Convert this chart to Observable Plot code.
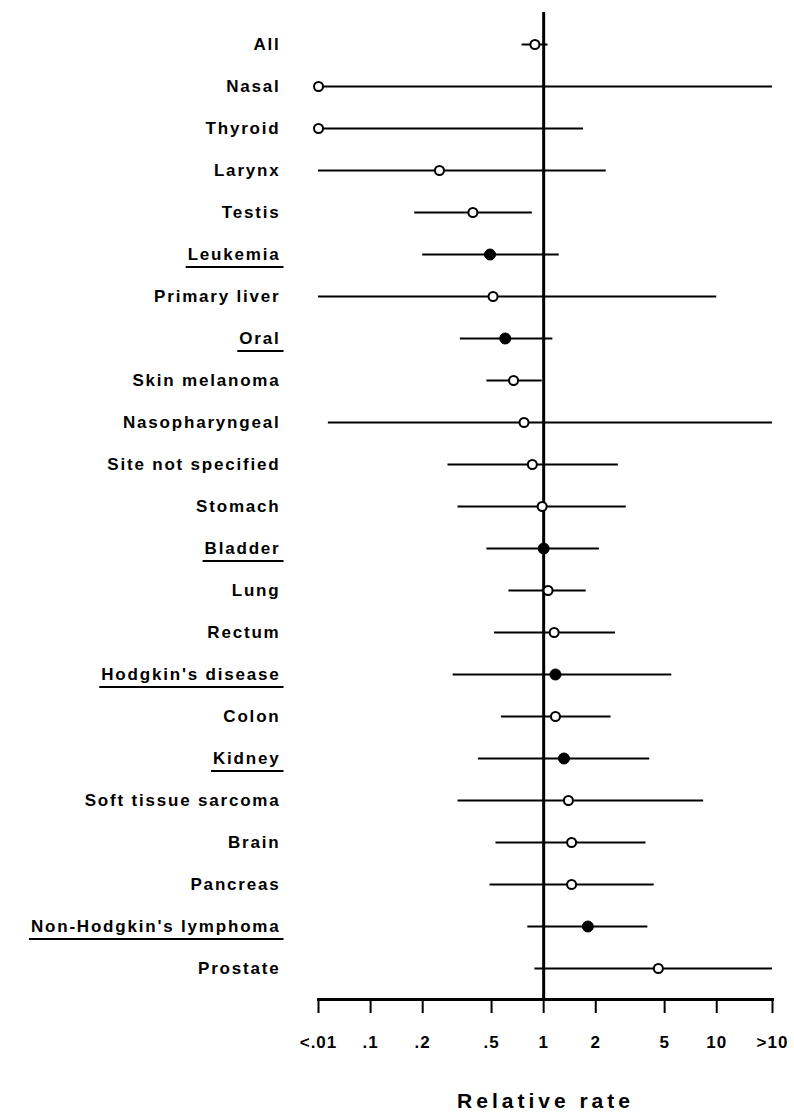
<!DOCTYPE html>
<html>
<head>
<meta charset="utf-8">
<script src="https://cdn.jsdelivr.net/npm/d3@7"></script>
<script src="https://cdn.jsdelivr.net/npm/@observablehq/plot@0.6"></script>
<style>
  html, body { margin: 0; padding: 0; background: #fff; }
  #chart svg { font-family: "Liberation Sans", Arial, sans-serif; font-weight: bold; }
  #chart svg [aria-label="y-axis tick label"] text { letter-spacing: 1.8px; }
  #chart svg [aria-label="text"] text { letter-spacing: 1px; }
  #chart svg [aria-label="text"]:last-of-type text { letter-spacing: 4px; }
</style>
</head>
<body>
<div id="chart"></div>
<script>
// Off-scale positions used for "<.01" and ">10"
const LOW = 0.05;
const HIGH = 21;

const sites = ["All", "Nasal", "Thyroid", "Larynx", "Testis", "Leukemia", "Primary liver", "Oral",
  "Skin melanoma", "Nasopharyngeal", "Site not specified", "Stomach", "Bladder", "Lung", "Rectum",
  "Hodgkin's disease", "Colon", "Kidney", "Soft tissue sarcoma", "Brain", "Pancreas",
  "Non-Hodgkin's lymphoma", "Prostate"];
const rate  = [0.89, LOW, LOW, 0.25, 0.39, 0.49, 0.51, 0.60, 0.67, 0.77, 0.86, 0.98, 1.00, 1.06, 1.15,
  1.17, 1.17, 1.31, 1.39, 1.45, 1.45, 1.80, 4.6];
const lower = [0.75, LOW, LOW, LOW, 0.18, 0.20, LOW, 0.33, 0.47, 0.057, 0.28, 0.32, 0.47, 0.63, 0.52,
  0.30, 0.57, 0.42, 0.32, 0.53, 0.49, 0.81, 0.89];
const upper = [1.06, HIGH, 1.7, 2.3, 0.86, 1.23, 10.0, 1.13, 0.98, HIGH, 2.7, 3.0, 2.1, 1.76, 2.6,
  5.5, 2.45, 4.1, 8.4, 3.9, 4.35, 4.0, HIGH];
const highlighted = ["Leukemia", "Oral", "Bladder", "Hodgkin's disease", "Kidney", "Non-Hodgkin's lymphoma"];

const tickValues = [LOW, 0.1, 0.2, 0.5, 1, 2, 5, 10, HIGH];
const tickLabels = ["<.01", ".1", ".2", ".5", "1", "2", "5", "10", ">10"];

const data = sites.map((s, i) => ({site: s, rate: rate[i], lower: lower[i], upper: upper[i],
  filled: highlighted.includes(s)}));
const ticks = tickValues.map((v, i) => ({value: v, label: tickLabels[i]}));

const plot = Plot.plot({
  width: 794,
  height: 1115,
  marginLeft: 318,
  marginRight: 22,
  marginTop: 12,
  marginBottom: 116,
  x: {type: "log", domain: [LOW, HIGH]},
  y: {type: "point", domain: sites, padding: 0.59},
  marks: [
    Plot.ruleX([1], {strokeWidth: 3}),
    Plot.frame({anchor: "bottom", strokeWidth: 3}),
    Plot.ruleY(data, {y: "site", x1: "lower", x2: "upper", strokeWidth: 2}),
    Plot.dot(data.filter(d => !d.filled), {x: "rate", y: "site", r: 4.5, fill: "white", stroke: "black", strokeWidth: 2}),
    Plot.dot(data.filter(d => d.filled), {x: "rate", y: "site", r: 5.5, fill: "black", stroke: "black", strokeWidth: 1}),
    Plot.axisX({ticks: tickValues, tickFormat: () => "", tickSize: 14, strokeWidth: 2, label: null}),
    Plot.axisY({tickSize: 0, tickPadding: 38, fontSize: 17, label: null}),
    Plot.text(ticks, {x: "value", text: "label", frameAnchor: "bottom", lineAnchor: "top", dy: 36,
      fontSize: 17, fontWeight: "bold"}),
    Plot.text(["Relative rate"], {frameAnchor: "bottom", lineAnchor: "bottom", dy: 108, fontSize: 21, fontWeight: "bold"})
  ]
});

document.getElementById("chart").appendChild(plot);

// underline the highlighted site names
const ns = "http://www.w3.org/2000/svg";
plot.querySelectorAll('[aria-label="y-axis tick label"] text').forEach(t => {
  if (!highlighted.includes(t.textContent)) return;
  const b = t.getBBox();
  const line = document.createElementNS(ns, "line");
  const tr = t.getAttribute("transform");
  if (tr) line.setAttribute("transform", tr);
  const y = b.y + b.height + 3;
  line.setAttribute("x1", b.x - 2);
  line.setAttribute("x2", b.x + b.width + 3);
  line.setAttribute("y1", y);
  line.setAttribute("y2", y);
  line.setAttribute("stroke", "black");
  line.setAttribute("stroke-width", 2);
  t.parentNode.appendChild(line);
});
</script>
</body>
</html>
